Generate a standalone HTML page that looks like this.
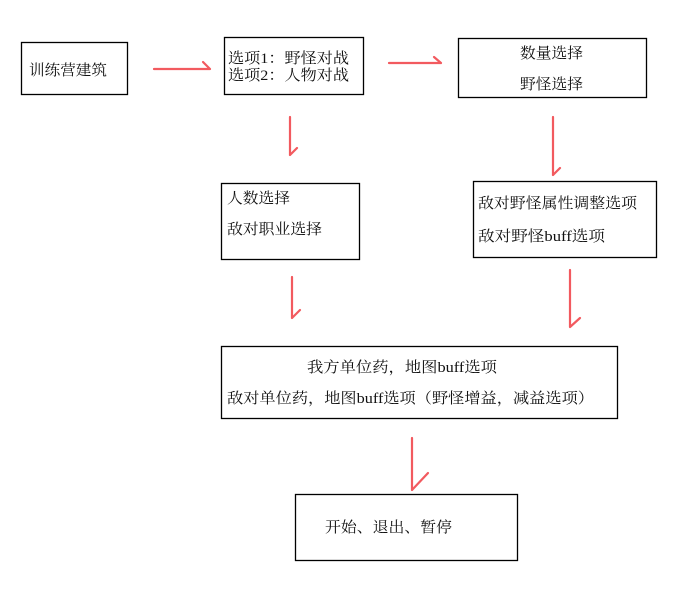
<!DOCTYPE html>
<html><head><meta charset="utf-8"><style>
html,body{margin:0;padding:0;background:#fff;}
svg{display:block;}
text{font-family:"Liberation Serif","Noto Serif CJK SC",serif;font-size:15px;fill:#111;}
</style></head><body>
<svg width="683" height="592" viewBox="0 0 683 592" xmlns="http://www.w3.org/2000/svg">
<g fill="none" stroke="#000" stroke-width="1.3">
<rect x="21.5" y="42.5" width="106" height="52"/>
<rect x="224.5" y="37.5" width="139" height="57"/>
<rect x="458.5" y="38.5" width="188" height="59"/>
<rect x="221.5" y="183.5" width="138" height="76"/>
<rect x="473.5" y="181.5" width="183" height="76"/>
<rect x="221.5" y="346.5" width="396" height="72"/>
<rect x="295.5" y="494.5" width="222" height="66"/>
</g>
<g fill="none" stroke="#f25a5f" stroke-width="2.2" stroke-linecap="round" stroke-linejoin="round">
<path d="M154 69 H210 M203 62 L210 69"/>
<path d="M389 63 H441 M434 57 L441 63"/>
<path d="M290 117 V155 M290 155 L297 148"/>
<path d="M553 117 V175 M553 175 L560 168"/>
<path d="M292 277 V318 M292 318 L300 310"/>
<path d="M570 270 V327 M570 327 L580 318"/>
<path d="M412 438 V490 M412 490 L428 473"/>
</g>
<text x="29" y="75" textLength="78" lengthAdjust="spacingAndGlyphs">训练营建筑</text>
<text x="228" y="63" textLength="121" lengthAdjust="spacingAndGlyphs">选项1：野怪对战</text>
<text x="228" y="80" textLength="121" lengthAdjust="spacingAndGlyphs">选项2：人物对战</text>
<text x="520" y="58" textLength="63" lengthAdjust="spacingAndGlyphs">数量选择</text>
<text x="520" y="89" textLength="63" lengthAdjust="spacingAndGlyphs">野怪选择</text>
<text x="227" y="203" textLength="63" lengthAdjust="spacingAndGlyphs">人数选择</text>
<text x="227" y="234" textLength="95" lengthAdjust="spacingAndGlyphs">敌对职业选择</text>
<text x="478" y="208" textLength="159" lengthAdjust="spacingAndGlyphs">敌对野怪属性调整选项</text>
<text x="478" y="241" textLength="127" lengthAdjust="spacingAndGlyphs">敌对野怪buff选项</text>
<text x="307" y="372" textLength="190" lengthAdjust="spacingAndGlyphs">我方单位药，地图buff选项</text>
<text x="227" y="403" textLength="367" lengthAdjust="spacingAndGlyphs">敌对单位药，地图buff选项（野怪增益，减益选项）</text>
<text x="325" y="532" textLength="127" lengthAdjust="spacingAndGlyphs">开始、退出、暂停</text>
</svg>
</body></html>
